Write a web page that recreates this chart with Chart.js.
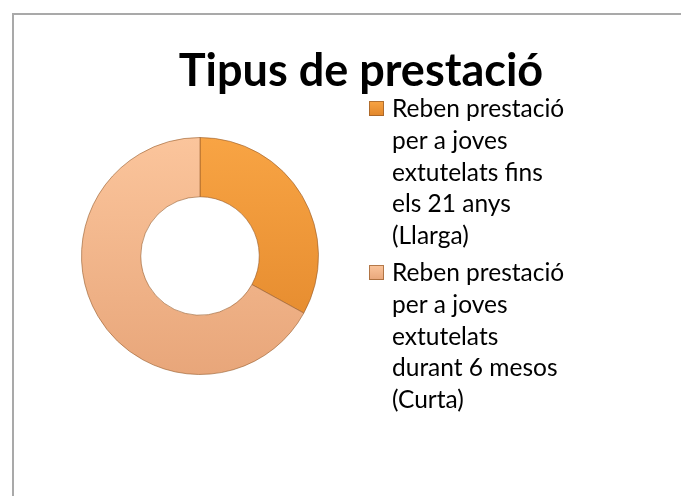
<!DOCTYPE html>
<html>
<head>
<meta charset="utf-8">
<script src="https://cdn.jsdelivr.net/npm/chart.js@4.4.1/dist/chart.umd.min.js"></script>
<style>
  body { margin: 0; background: #fff; }
  #wrap { position: relative; width: 681px; height: 496px; overflow: hidden; }
  #frame { position: absolute; left: 12px; top: 13px; width: 700px; height: 500px;
           border-left: 2px solid #a9a9a9; border-top: 2px solid #a9a9a9; }
  canvas { position: absolute; left: 0; top: 0; }
</style>
</head>
<body>
<div id="wrap">
  <div id="frame"></div>
  <canvas id="donut" width="681" height="496"></canvas>
</div>
<script>
// dades del gràfic
const titleText = 'Tipus de prestació';
const categories = [
    ['Reben prestació', 'per a joves', 'extutelats fins', 'els 21 anys', '(Llarga)'],
    ['Reben prestació', 'per a joves', 'extutelats', 'durant 6 mesos', '(Curta)']
];
const values = [33, 67];
const colorsTop = ['#f8a444', '#fbc59c'];
const colorsBottom = ['#e1862a', '#e8a67a'];

const FONT = 'Lato, "Open Sans", sans-serif';

// degradat vertical per a cada sector
function sliceFill(ctx) {
    const area = ctx.chart.chartArea;
    if (!area) return colorsTop[ctx.dataIndex];
    const g = ctx.chart.ctx.createLinearGradient(0, area.top, 0, area.bottom);
    g.addColorStop(0, colorsTop[ctx.dataIndex]);
    g.addColorStop(1, colorsBottom[ctx.dataIndex]);
    return g;
}

// títol i llegenda dibuixats a mà
const sidePlugin = {
    id: 'sidePlugin',
    afterDraw(chart) {
        const c = chart.ctx;
        c.save();
        c.fillStyle = '#000';
        c.font = 'bold 45px ' + FONT;
        c.textAlign = 'center';
        c.textBaseline = 'alphabetic';
        c.fillText(titleText, 361, 86);

        c.font = '24.5px ' + FONT;
        c.textAlign = 'left';
        const starts = [117, 281];
        categories.forEach((lines, i) => {
            const y0 = starts[i];
            const g = c.createLinearGradient(0, y0 - 16, 0, y0 - 1);
            g.addColorStop(0, colorsTop[i]);
            g.addColorStop(1, colorsBottom[i]);
            c.fillStyle = g;
            c.fillRect(369, y0 - 16, 15, 15);
            c.strokeStyle = 'rgba(150,90,40,0.7)';
            c.lineWidth = 1;
            c.strokeRect(369.5, y0 - 15.5, 14, 14);
            c.fillStyle = '#000';
            lines.forEach((t, j) => c.fillText(t, 392, y0 + j * 31.8));
        });
        c.restore();
    }
};

new Chart(document.getElementById('donut'), {
    type: 'doughnut',
    data: {
        labels: categories.map(l => l.join(' ')),
        datasets: [{
            data: values,
            backgroundColor: sliceFill,
            borderColor: 'rgba(150,90,40,0.6)',
            borderWidth: 1
        }]
    },
    options: {
        responsive: false,
        animation: false,
        cutout: '50%',
        layout: { padding: { left: 81, right: 362, top: 137, bottom: 121 } },
        plugins: {
            legend: { display: false },
            title: { display: false },
            tooltip: { enabled: false }
        }
    },
    plugins: [sidePlugin]
});
</script>
</body>
</html>
